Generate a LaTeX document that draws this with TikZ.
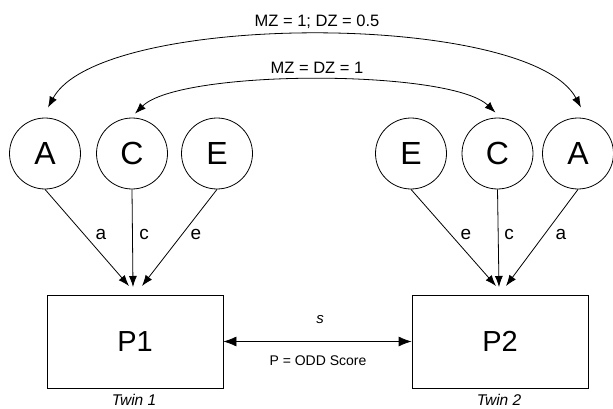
\documentclass[tikz,border=0pt]{standalone}
\usepackage{fontspec}
\setmainfont{Liberation Sans}
\usetikzlibrary{arrows.meta}

\begin{document}
\begin{tikzpicture}[x=1pt,y=-1pt,line width=0.8pt,
        latent/.style={draw,circle,minimum size=71pt,inner sep=0pt,font=\fontsize{32}{36}\selectfont},
        pheno/.style={draw,rectangle,minimum width=176pt,minimum height=93pt,inner sep=0pt,font=\fontsize{29}{32}\selectfont},
        loading/.style={-{Latex[length=11pt,width=8pt]}},
        corr/.style={{Latex[length=11pt,width=8pt]}-{Latex[length=11pt,width=8pt]}},
        lbl/.style={inner sep=0pt,font=\fontsize{19}{22}\selectfont},
        note/.style={inner sep=0pt,font=\fontsize{14}{17}\selectfont}]
        \useasboundingbox (0,0) rectangle (613,409);
        % twin 1
        \node[latent] (A1) at (45,153.5) {A};
        \node[latent] (C1) at (132,153.5) {C};
        \node[latent] (E1) at (217,153.5) {E};
        \node[pheno] (P1) at (135,341.5) {P1};
        \coordinate (a1) at (129,286);
        \coordinate (c1) at (133,287);
        \coordinate (e1) at (142,286);
        \draw[loading] (A1.south) -- (a1);
        \draw[loading] (C1.south) -- (c1);
        \draw[loading] (E1.south) -- (e1);
        \node[lbl] (la1) at (101,234) {a};
        \node[lbl] (lc1) at (144,234) {c};
        \node[lbl] (le1) at (196,234) {e};
        \node[note,font=\fontsize{15.5}{18}\selectfont] (t1) at (134,400) {\itshape Twin 1};
        % twin 2
        \node[latent] (E2) at (411,153.5) {E};
        \node[latent] (C2) at (497.5,153.5) {C};
        \node[latent] (A2) at (578,153.5) {A};
        \node[pheno] (P2) at (500,341.5) {P2};
        \coordinate (e2) at (496,286);
        \coordinate (c2) at (499,287);
        \coordinate (a2) at (506,286);
        \draw[loading] (E2.south) -- (e2);
        \draw[loading] (C2.south) -- (c2);
        \draw[loading] (A2.south) -- (a2);
        \node[lbl] (le2) at (466,234) {e};
        \node[lbl] (lc2) at (509,234) {c};
        \node[lbl] (la2) at (561,234) {a};
        \node[note,font=\fontsize{15.5}{18}\selectfont] (t2) at (499,400) {\itshape Twin 2};
        % correlations between twins
        \draw[corr] ([shift={(3pt,10pt)}]A1.north) .. controls (100,11) and (530,11) .. ([shift={(3pt,10pt)}]A2.north);
        \draw[corr] ([shift={(3pt,4pt)}]C1.north) .. controls (180,69) and (450,69) .. ([shift={(-2pt,5pt)}]C2.north);
        \node[lbl,font=\fontsize{16.5}{19}\selectfont] (mza) at (317,22) {MZ = 1; DZ = 0.5};
        \node[lbl,font=\fontsize{16.5}{19}\selectfont] (mzc) at (317,68) {MZ = DZ = 1};
        \draw[{Latex[length=13pt,width=10pt]}-{Latex[length=13pt,width=10pt]}] (P1) -- (P2);
        \node[note,font=\fontsize{15}{18}\selectfont] (s) at (320,320) {\itshape s};
        \node[note] (odd) at (318,361) {P = ODD Score};
    \end{tikzpicture}
\end{document}
